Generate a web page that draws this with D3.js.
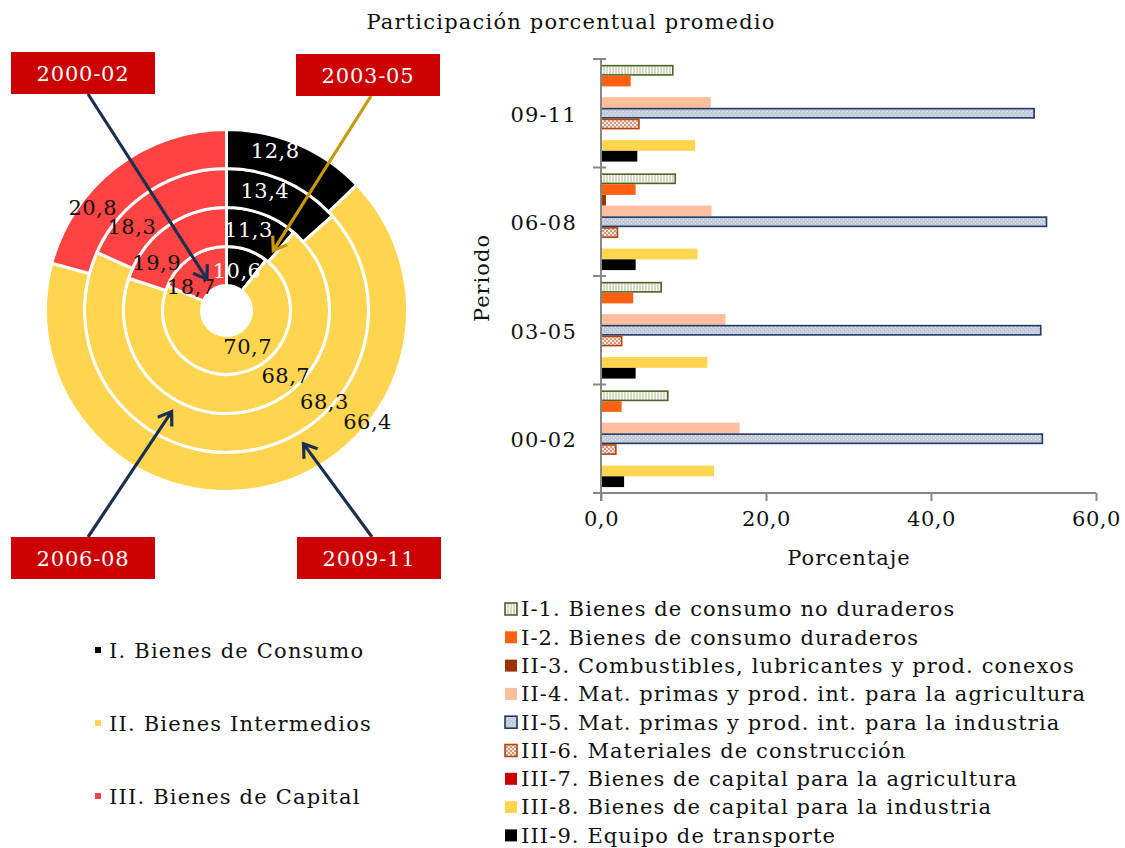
<!DOCTYPE html>
<html>
<head>
<meta charset="utf-8">
<script src="https://cdn.jsdelivr.net/npm/d3@7"></script>
<style>
  html, body { margin: 0; padding: 0; background: #fff; }
  svg { display: block; }
  text { font-family: "DejaVu Serif", "Liberation Serif", serif; }
</style>
</head>
<body>
<svg id="chart" width="1125" height="848"></svg>
<script>
// ---- data ---------------------------------------------------------------
// periods, bottom to top on the bar chart
const periods = ["00-02", "03-05", "06-08", "09-11"];
// rings of the donut, innermost first
const ringPeriods = ["2000-02", "2003-05", "2006-08", "2009-11"];
const groups = ["I. Bienes de Consumo", "II. Bienes Intermedios", "III. Bienes de Capital"];
const consumo     = [10.6, 11.3, 13.4, 12.8];
const intermedios = [70.7, 68.7, 68.3, 66.4];
const capital     = [18.7, 19.9, 18.3, 20.8];

const seriesNames = [
  "I-1. Bienes de consumo no duraderos",
  "I-2. Bienes de consumo duraderos",
  "II-3. Combustibles, lubricantes y prod. conexos",
  "II-4. Mat. primas y prod. int. para la agricultura",
  "II-5. Mat. primas y prod. int. para la industria",
  "III-6. Materiales de construcción",
  "III-7. Bienes de capital para la agricultura",
  "III-8. Bienes de capital para la industria",
  "III-9. Equipo de transporte"
];
// values per series, in the order of `periods`
const s1 = [8.1, 7.3, 9.0, 8.7];
const s2 = [2.5, 3.9, 4.2, 3.6];
const s3 = [0.0, 0.0, 0.6, 0.0];
const s4 = [16.8, 15.1, 13.4, 13.3];
const s5 = [53.5, 53.3, 54.0, 52.5];
const s6 = [1.8, 2.5, 2.0, 4.6];
const s7 = [0.0, 0.0, 0.0, 0.0];
const s8 = [13.7, 12.9, 11.7, 11.4];
const s9 = [2.8, 4.2, 4.2, 4.4];
const seriesValues = [s1, s2, s3, s4, s5, s6, s7, s8, s9];

const xTicks = [0, 20, 40, 60];

// ---- styles -------------------------------------------------------------
const groupColors = ["#000000", "#FFD550", "#FF4242"];
const FONT = "DejaVu Serif";
const locale = d3.formatLocale({ decimal: ",", thousands: ".", grouping: [3], currency: ["", ""] });
const fmt1 = locale.format(".1f");

const svg = d3.select("#chart");
const defs = svg.append("defs");

// hatch fills for the patterned series
const pStripe = defs.append("pattern").attr("id", "pStripe").attr("patternUnits", "userSpaceOnUse")
  .attr("width", 3).attr("height", 4);
pStripe.append("rect").attr("width", 3).attr("height", 4).attr("fill", "#ffffff");
pStripe.append("rect").attr("width", 2).attr("height", 4).attr("fill", "#d3dbc2");

const pDots = defs.append("pattern").attr("id", "pDots").attr("patternUnits", "userSpaceOnUse")
  .attr("width", 4).attr("height", 4);
pDots.append("rect").attr("width", 4).attr("height", 4).attr("fill", "#c4cbd8");
pDots.append("rect").attr("x", 1).attr("y", 1).attr("width", 1).attr("height", 1).attr("fill", "#e4e8ef");
pDots.append("rect").attr("x", 3).attr("y", 3).attr("width", 1).attr("height", 1).attr("fill", "#e4e8ef");

const pCheck = defs.append("pattern").attr("id", "pCheck").attr("patternUnits", "userSpaceOnUse")
  .attr("width", 4).attr("height", 4);
pCheck.append("rect").attr("width", 4).attr("height", 4).attr("fill", "#f6e6dc");
pCheck.append("rect").attr("width", 2).attr("height", 2).attr("fill", "#cf9a80");
pCheck.append("rect").attr("x", 2).attr("y", 2).attr("width", 2).attr("height", 2).attr("fill", "#cf9a80");

const seriesStyle = [
  { fill: "url(#pStripe)", stroke: "#4F6228" },
  { fill: "#FF6112", stroke: null },
  { fill: "#993300", stroke: null },
  { fill: "#FFBE9D", stroke: null },
  { fill: "url(#pDots)", stroke: "#1F3864" },
  { fill: "url(#pCheck)", stroke: "#B4450E" },
  { fill: "#CC0000", stroke: null },
  { fill: "#FFD550", stroke: null },
  { fill: "#000000", stroke: null }
];

// ---- title --------------------------------------------------------------
svg.append("text").attr("x", 571).attr("y", 29).attr("text-anchor", "middle")
  .attr("font-size", 21).attr("letter-spacing", 1.2).attr("fill", "#111")
  .text("Participación porcentual promedio");

// ---- donut --------------------------------------------------------------
const cx = 226.5, cy = 310.5;
const hole = 25, ringW = 39;
const gDonut = svg.append("g").attr("transform", `translate(${cx},${cy})`);
const pie = d3.pie().sort(null).value(d => d.v);

ringPeriods.forEach((p, i) => {
  const vals = [consumo[i], intermedios[i], capital[i]].map((v, k) => ({ v, k }));
  const arcs = pie(vals);
  const r0 = hole + i * ringW, r1 = r0 + ringW;
  const arc = d3.arc().innerRadius(r0).outerRadius(r1);
  gDonut.selectAll(null).data(arcs).enter().append("path")
    .attr("d", arc)
    .attr("fill", d => groupColors[d.data.k])
    .attr("stroke", "#fff").attr("stroke-width", 3);
});

// value labels: placed part-way into each segment, drifting outward on the outer rings
const labelFrac = (k, i) => [0.36, Math.max(0.34, 0.43 - 0.045 * i), 0.22 + 0.03 * i][k];
const labelPush = (k, i) => [3 * i, 7 * i - 5, 3 * i][k];
ringPeriods.forEach((p, i) => {
  const vals = [consumo[i], intermedios[i], capital[i]].map((v, k) => ({ v, k }));
  const arcs = pie(vals);
  const rMid = hole + i * ringW + ringW / 2;
  const ang = d => d.startAngle + labelFrac(d.data.k, i) * (d.endAngle - d.startAngle);
  const rad = d => rMid + labelPush(d.data.k, i);
  gDonut.selectAll(null).data(arcs).enter().append("text")
    .attr("x", d => rad(d) * Math.sin(ang(d)))
    .attr("y", d => -rad(d) * Math.cos(ang(d)))
    .attr("dy", "0.5em").attr("text-anchor", "middle")
    .attr("font-size", 21).attr("letter-spacing", 0.5)
    .attr("fill", d => d.data.k === 0 ? "#fff" : "#111")
    .text(d => fmt1(d.data.v));
});

// period call-outs with arrows pointing into their ring
const callouts = [
  { ring: 0, box: [11, 52], angle: 328, color: "#1B3050" },
  { ring: 1, box: [296, 54], angle: 38, color: "#C9970C" },
  { ring: 2, box: [11, 537], angle: 208.5, color: "#1B3050" },
  { ring: 3, box: [297, 537], angle: 150, color: "#1B3050" }
];
const boxW = 144, boxH = 42;
callouts.forEach(c => {
  const rad = c.angle * Math.PI / 180;
  const rTip = hole + c.ring * ringW + 12;
  const tip = [cx + rTip * Math.sin(rad), cy - rTip * Math.cos(rad)];
  const top = c.box[1] < cy;
  const start = [c.box[0] + (c.ring === 0 || c.ring === 2 ? 77 : 75), top ? c.box[1] + boxH : c.box[1]];
  const dx = tip[0] - start[0], dy = tip[1] - start[1];
  const len = Math.hypot(dx, dy), ux = dx / len, uy = dy / len;
  const head = 15, spread = 0.6;
  const w1 = [tip[0] - head * (ux * Math.cos(spread) - uy * Math.sin(spread)), tip[1] - head * (uy * Math.cos(spread) + ux * Math.sin(spread))];
  const w2 = [tip[0] - head * (ux * Math.cos(-spread) - uy * Math.sin(-spread)), tip[1] - head * (uy * Math.cos(-spread) + ux * Math.sin(-spread))];
  svg.append("path")
    .attr("d", `M${start}L${tip}M${w1}L${tip}L${w2}`)
    .attr("fill", "none").attr("stroke", c.color).attr("stroke-width", 3.2)
    .attr("stroke-linecap", "butt").attr("stroke-linejoin", "miter");
  svg.append("rect").attr("x", c.box[0]).attr("y", c.box[1]).attr("width", boxW).attr("height", boxH)
    .attr("fill", "#CC0000");
  svg.append("text").attr("x", c.box[0] + boxW / 2).attr("y", c.box[1] + boxH / 2)
    .attr("dy", "0.36em").attr("text-anchor", "middle").attr("font-size", 21)
    .attr("letter-spacing", 0.8).attr("fill", "#fff").text(ringPeriods[c.ring]);
});

// donut legend
const gLegL = svg.append("g");
groups.forEach((g, k) => {
  const y = 651 + k * 73;
  gLegL.append("rect").attr("x", 95).attr("y", y - 4).attr("width", 6).attr("height", 6).attr("fill", groupColors[k]);
  gLegL.append("text").attr("x", 109).attr("y", y).attr("dy", "0.35em").attr("font-size", 21)
    .attr("letter-spacing", 1.2).attr("fill", "#111").text(g);
});

// ---- bar chart ----------------------------------------------------------
const x = d3.scaleLinear().domain([0, 60]).range([601, 1096]);
const y = d3.scaleBand().domain(periods.slice().reverse()).range([59, 493]).padding(0);
const ySub = d3.scaleBand().domain(d3.range(seriesNames.length)).range([0, y.bandwidth()])
  .paddingInner(0).paddingOuter(0.55);

const gBars = svg.append("g");
seriesValues.forEach((vals, si) => {
  const st = seriesStyle[si];
  gBars.selectAll(null).data(vals.map((v, pi) => ({ v, p: periods[pi] })).filter(d => d.v > 0))
    .enter().append("rect")
    .attr("x", x(0))
    .attr("y", d => y(d.p) + ySub(si) + (st.stroke ? 0.75 : 0))
    .attr("width", d => x(d.v) - x(0))
    .attr("height", ySub.bandwidth() - (st.stroke ? 1.5 : 0))
    .attr("fill", st.fill)
    .attr("stroke", st.stroke || "none")
    .attr("stroke-width", st.stroke ? 1.6 : 0);
});

const axisColor = "#878787";
// value axis
const gx = svg.append("g").attr("transform", `translate(0,${y.range()[1]})`)
  .call(d3.axisBottom(x).tickValues(xTicks).tickSize(8).tickFormat(fmt1));
gx.select(".domain").attr("stroke", axisColor).attr("stroke-width", 2);
gx.selectAll(".tick line").attr("stroke", axisColor).attr("stroke-width", 2);
gx.selectAll(".tick text").attr("font-family", FONT).attr("font-size", 21).attr("letter-spacing", 0.6)
  .attr("fill", "#111").attr("dy", "1.05em");
gx.select(".domain").attr("d", `M${x(0)},0H${x(60)}`);

// category axis
const gy = svg.append("g").attr("transform", `translate(${x(0)},0)`);
gy.append("line").attr("y1", y.range()[0]).attr("y2", y.range()[1] + 8)
  .attr("stroke", axisColor).attr("stroke-width", 2);
const bounds = y.domain().map(p => y(p)).concat([y.range()[1]]);
gy.selectAll(null).data(bounds).enter().append("line")
  .attr("x1", -8).attr("x2", 5).attr("y1", d => d).attr("y2", d => d)
  .attr("stroke", axisColor).attr("stroke-width", 2);
gy.selectAll(null).data(y.domain()).enter().append("text")
  .attr("x", -24).attr("y", d => y(d) + y.bandwidth() / 2 + 1).attr("dy", "0.35em")
  .attr("text-anchor", "end").attr("font-size", 21).attr("letter-spacing", 1.2)
  .attr("fill", "#111").text(d => d);

svg.append("text").attr("transform", "translate(482,278) rotate(-90)")
  .attr("text-anchor", "middle").attr("dy", "0.35em").attr("font-size", 21).attr("letter-spacing", 1)
  .attr("fill", "#111").text("Periodo");
svg.append("text").attr("x", 849).attr("y", 558).attr("dy", "0.35em")
  .attr("text-anchor", "middle").attr("font-size", 21).attr("letter-spacing", 1)
  .attr("fill", "#111").text("Porcentaje");

// series legend
const gLegR = svg.append("g");
seriesNames.forEach((n, si) => {
  const st = seriesStyle[si];
  const yy = 609 + si * 28.3;
  gLegR.append("rect").attr("x", 505).attr("y", yy - 6).attr("width", 12).attr("height", 12)
    .attr("fill", st.fill).attr("stroke", st.stroke || "none").attr("stroke-width", st.stroke ? 1.6 : 0);
  gLegR.append("text").attr("x", 521).attr("y", yy).attr("dy", "0.35em").attr("font-size", 21)
    .attr("letter-spacing", 1.1).attr("fill", "#111").text(n);
});
</script>
</body>
</html>
